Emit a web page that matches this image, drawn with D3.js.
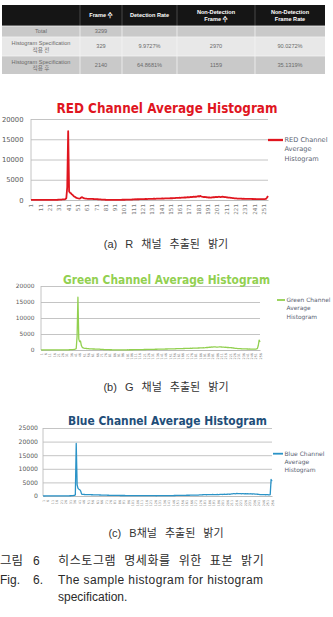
<!DOCTYPE html>
<html>
<head>
<meta charset="utf-8">
<script src="https://cdn.jsdelivr.net/npm/d3@7"></script>
<style>
  body { margin: 0; background: #fff; }
  svg { display: block; font-family: "Liberation Sans", "Noto Sans CJK KR", sans-serif; }
</style>
</head>
<body>
<svg id="fig" width="333" height="617"></svg>
<script>
// ---------------- data ----------------
const tableHeader = [[""], ["Frame 수"], ["Detection Rate"], ["Non-Detection", "Frame 수"], ["Non-Detection", "Frame Rate"]];
const tableRows = [
  [["Total"], ["3299"], [""], [""], [""]],
  [["Histogram Specification", "적용 전"], ["329"], ["9.9727%"], ["2970"], ["90.0272%"]],
  [["Histogram Specification", "적용 후"], ["2140"], ["64.8681%"], ["1159"], ["35.1319%"]]
];

// brightness bins 1..256 (category axis)
const bins = d3.range(1, 257);

const redValues = [
  20,15,10,12,18,22,15,10,14,20,25,18,12,15,20,25,
  30,22,28,35,30,26,32,40,38,45,42,50,55,60,70,85,
  95,110,130,150,180,240,420,3200,17000,2100,1800,1650,1400,1200,950,800,
  650,520,450,400,360,420,600,700,520,430,380,350,320,300,290,280,
  300,270,260,250,240,230,220,210,190,170,150,130,110,95,80,70,
  60,55,50,45,40,42,38,35,40,38,36,40,42,45,48,50,
  52,55,58,60,62,65,70,72,75,80,85,90,100,120,140,160,
  180,170,190,200,185,210,220,200,230,240,220,250,260,240,270,280,
  260,290,300,280,310,320,300,330,340,320,350,360,340,370,380,360,
  390,400,380,410,420,400,430,450,430,460,480,460,500,520,500,540,
  560,540,580,600,580,620,650,620,680,700,660,720,750,700,780,820,
  760,850,800,900,950,850,1000,900,820,780,720,760,700,680,650,620,
  640,600,620,660,700,680,720,760,700,740,800,760,720,780,820,760,
  700,740,680,650,620,600,560,520,500,480,450,420,400,380,360,350,
  340,330,320,310,300,310,290,300,280,290,270,280,260,270,250,260,
  240,250,230,240,220,230,210,220,200,210,220,230,250,300,600,1000
];

const greenValues = [
  10,8,6,8,10,12,10,8,10,12,14,12,10,12,15,18,
  20,18,22,25,22,28,30,28,32,35,38,40,45,50,55,60,
  70,80,90,100,120,140,180,230,300,450,4200,16500,3400,2600,2800,1400,
  850,650,560,520,480,470,430,420,390,370,350,340,320,310,305,300,
  300,280,290,260,250,230,220,190,180,150,140,120,115,100,95,90,
  85,82,76,70,68,66,62,60,58,57,55,54,52,50,52,55,
  58,61,60,66,68,71,70,76,78,82,85,86,92,95,100,104,
  108,115,112,124,130,128,140,146,152,160,158,170,176,182,190,196,
  200,208,214,220,218,230,236,240,250,246,260,268,272,280,276,290,
  300,310,306,320,330,326,340,350,346,360,372,380,376,392,400,410,
  420,416,430,446,440,456,470,466,480,494,500,510,506,520,540,532,
  550,566,560,580,596,590,610,630,620,640,660,650,670,700,690,720,
  760,800,780,840,880,860,900,940,920,960,980,950,920,900,930,960,
  1000,980,940,900,920,880,840,860,820,780,800,760,720,740,700,660,
  620,580,540,500,480,460,440,420,400,390,380,370,360,350,340,330,
  320,310,300,310,290,300,280,290,270,280,300,340,500,1400,3100,2500
];

const blueValues = [
  12,10,8,10,12,14,12,10,12,14,16,14,12,14,16,18,
  20,22,24,26,28,30,34,38,42,46,52,58,66,76,88,100,
  120,150,190,260,400,19300,4100,2800,2500,2300,1800,700,620,580,560,540,
  520,505,498,486,480,472,458,452,445,428,420,414,400,392,380,374,
  360,352,340,330,318,310,300,292,280,270,262,250,240,232,226,220,
  214,208,206,201,197,195,188,190,182,181,176,177,170,171,166,168,
  162,161,156,157,150,152,146,147,142,143,138,140,134,136,131,132,
  128,127,122,124,119,120,114,117,111,112,108,109,103,105,100,102,
  104,103,108,107,112,113,118,120,124,128,132,138,144,150,156,162,
  170,174,184,186,196,198,208,210,220,222,232,234,244,246,256,258,
  268,270,280,282,292,294,304,306,316,318,332,338,352,358,382,398,
  420,440,460,480,500,480,460,500,520,540,520,500,540,560,540,520,
  500,520,560,540,520,560,600,580,560,600,640,620,600,640,680,660,
  640,700,760,820,880,840,800,860,920,880,840,900,860,820,880,840,
  800,860,820,780,840,800,760,820,780,740,800,760,720,700,680,640,
  600,560,540,520,500,520,480,500,460,480,500,460,440,480,6100,5400
];

const ticks20k = [0, 5000, 10000, 15000, 20000];
const ticks25k = [0, 5000, 10000, 15000, 20000, 25000];

const subCaptions = ["(a) R 채널 추출된 밝기", "(b) G 채널 추출된 밝기", "(c) B채널 추출된 밝기"];

// ---------------- drawing ----------------
const svg = d3.select("#fig");
svg.append("rect").attr("width", 333).attr("height", 617).attr("fill", "#fff");

// ---- table ----
const colX = [2, 80, 122, 177, 255, 325];
const rowY = [5, 26, 37, 56, 74];
const rowFill = ["#151515", "#c9c9c9", "#e8e8e8", "#c9c9c9"];
const table = svg.append("g");

[tableHeader, ...tableRows].forEach((row, r) => {
  table.append("rect")
    .attr("x", colX[0]).attr("y", rowY[r])
    .attr("width", colX[5] - colX[0]).attr("height", rowY[r + 1] - rowY[r])
    .attr("fill", rowFill[r]);
  row.forEach((lines, c) => {
    if (c > 0) {
      table.append("line")
        .attr("x1", colX[c]).attr("x2", colX[c])
        .attr("y1", rowY[r]).attr("y2", rowY[r + 1])
        .attr("stroke", r === 0 ? "#555" : "#f4f4f4").attr("stroke-width", 0.8);
    }
    const cx = (colX[c] + colX[c + 1]) / 2;
    const cy = (rowY[r] + rowY[r + 1]) / 2;
    const lh = r === 0 ? 6.5 : 6.8;
    lines.forEach((t, i) => {
      table.append("text")
        .attr("x", cx)
        .attr("y", cy + (i - (lines.length - 1) / 2) * lh)
        .attr("dy", "0.35em")
        .attr("text-anchor", "middle")
        .style("font-size", "5.6px")
        .style("font-weight", r === 0 ? "bold" : "normal")
        .attr("fill", r === 0 ? "#fff" : "#6a6a6a")
        .text(t);
    });
  });
  if (r > 0) {
    table.append("line")
      .attr("x1", colX[0]).attr("x2", colX[5])
      .attr("y1", rowY[r]).attr("y2", rowY[r])
      .attr("stroke", "#f4f4f4").attr("stroke-width", 0.8);
  }
});

// ---- histogram chart ----
function drawChart(o) {
  const g = svg.append("g");
  const x = d3.scalePoint().domain(bins).range([o.x0, o.x1]);
  const y = d3.scaleLinear().domain([0, o.yMax]).range([o.y0, o.yTop]);

  // gridlines + y labels
  const ya = g.append("g")
    .attr("transform", `translate(${o.x0},0)`)
    .call(d3.axisLeft(y).tickValues(o.yTicks).tickFormat(d3.format("d"))
      .tickSize(-(o.x1 - o.x0)).tickPadding(o.yPad));
  ya.select(".domain").remove();
  ya.selectAll("line").attr("stroke", "#bdbdbd").attr("stroke-width", 0.9);
  ya.selectAll("text")
    .style("font-size", o.yFont + "px")
    .style("font-family", "'DejaVu Sans', sans-serif")
    .attr("fill", "#595959");

  // vertical axis line
  g.append("line")
    .attr("x1", o.x0).attr("x2", o.x0)
    .attr("y1", y(o.yMax)).attr("y2", o.y0)
    .attr("stroke", "#bdbdbd").attr("stroke-width", 0.9);

  // category labels
  const xa = g.append("g")
    .attr("transform", `translate(0,${o.y0})`)
    .call(d3.axisBottom(x).tickValues(bins.filter((d, i) => i % o.step === 0)).tickSize(0).tickPadding(0));
  xa.select(".domain").attr("stroke", "#bdbdbd");
  xa.selectAll("text")
    .attr("transform", "rotate(-90)")
    .attr("text-anchor", "end")
    .attr("x", -o.xPad)
    .attr("y", 0)
    .attr("dy", "0.35em")
    .style("font-size", o.xFont + "px")
    .style("font-family", "'DejaVu Sans', sans-serif")
    .attr("fill", "#7a7a7a");

  // series line
  g.append("path")
    .datum(o.values)
    .attr("fill", "none")
    .attr("stroke", o.color)
    .attr("stroke-width", o.lineW)
    .attr("stroke-linejoin", "round")
    .attr("d", d3.line().x((d, i) => x(bins[i])).y(d => y(d)));

  // title
  g.append("text")
    .attr("x", o.titleX)
    .attr("y", o.titleY)
    .attr("text-anchor", "middle")
    .attr("textLength", o.titleW)
    .attr("lengthAdjust", "spacingAndGlyphs")
    .style("font-family", "'DejaVu Sans', sans-serif")
    .style("font-weight", "bold")
    .style("font-size", o.titleSize + "px")
    .attr("fill", o.titleColor)
    .text(o.title);

  // legend
  g.append("line")
    .attr("x1", o.legX0).attr("x2", o.legX1)
    .attr("y1", o.legY[0]).attr("y2", o.legY[0])
    .attr("stroke", o.color).attr("stroke-width", o.lineW + 0.5);
  o.legend.forEach((t, i) => {
    g.append("text")
      .attr("x", o.legX1 + 1.5)
      .attr("y", o.legY[i])
      .attr("dy", "0.35em")
      .style("font-size", o.legFont + "px")
      .style("font-family", "'DejaVu Sans', sans-serif")
      .attr("fill", "#5a6372")
      .text(t);
  });
}

drawChart({
  values: redValues, color: "#e0161f", lineW: 1.8,
  x0: 31, x1: 268, y0: 200, yTop: 119, yMax: 20000, yTicks: ticks20k,
  yFont: 6.8, yPad: 7.5, step: 10, xFont: 5.6, xPad: 4,
  title: "RED Channel Average Histogram", titleColor: "#e0161f",
  titleX: 167, titleY: 113.3, titleSize: 13.5, titleW: 221,
  legend: ["RED Channel", "Average", "Histogram"],
  legX0: 268, legX1: 283, legY: [140, 149, 158.5], legFont: 6.6
});

drawChart({
  values: greenValues, color: "#92d050", lineW: 1.3,
  x0: 41, x1: 260, y0: 350, yTop: 286, yMax: 20000, yTicks: ticks20k,
  yFont: 5.9, yPad: 6.5, step: 5, xFont: 3.4, xPad: 3,
  title: "Green Channel Average Histogram", titleColor: "#92d050",
  titleX: 166.5, titleY: 283.5, titleSize: 11.5, titleW: 207,
  legend: ["Green Channel", "Average", "Histogram"],
  legX0: 277, legX1: 285, legY: [300, 308.3, 316.8], legFont: 5.9
});

drawChart({
  values: blueValues, color: "#2b93c7", lineW: 1.3,
  x0: 43, x1: 272, y0: 496, yTop: 428, yMax: 25000, yTicks: ticks25k,
  yFont: 6.1, yPad: 5, step: 5, xFont: 3.3, xPad: 4,
  title: "Blue Channel Average Histogram", titleColor: "#1f4e79",
  titleX: 167.5, titleY: 425, titleSize: 12.8, titleW: 199,
  legend: ["Blue Channel", "Average", "Histogram"],
  legX0: 273, legX1: 283, legY: [453.7, 461.8, 470.3], legFont: 6
});

// ---- captions ----
const capY = [248, 391, 537];
subCaptions.forEach((t, i) => {
  svg.append("text")
    .attr("x", 166).attr("y", capY[i])
    .attr("text-anchor", "middle")
    .style("font-size", "11px")
    .style("word-spacing", "5px")
    .attr("fill", "#333")
    .text(t);
});

const fig = svg.append("g").attr("fill", "#2a2a2a");
fig.append("text").attr("x", 0).attr("y", 565).style("font-size", "12px")
  .attr("textLength", 23).attr("lengthAdjust", "spacingAndGlyphs").text("그림");
fig.append("text").attr("x", 33).attr("y", 565).style("font-size", "12px").text("6");
fig.append("text").attr("x", 58).attr("y", 565).style("font-size", "12px")
  .style("word-spacing", "4px").style("letter-spacing", "0.6px").text("히스토그램 명세화를 위한 표본 밝기");
fig.append("text").attr("x", 0).attr("y", 583.5).style("font-size", "12px").text("Fig.");
fig.append("text").attr("x", 33).attr("y", 583.5).style("font-size", "12px").text("6.");
fig.append("text").attr("x", 58).attr("y", 583.5).style("font-size", "12px")
  .attr("textLength", 205).attr("lengthAdjust", "spacing").text("The sample histogram for histogram");
fig.append("text").attr("x", 58).attr("y", 601).style("font-size", "12px").text("specification.");
</script>
</body>
</html>
